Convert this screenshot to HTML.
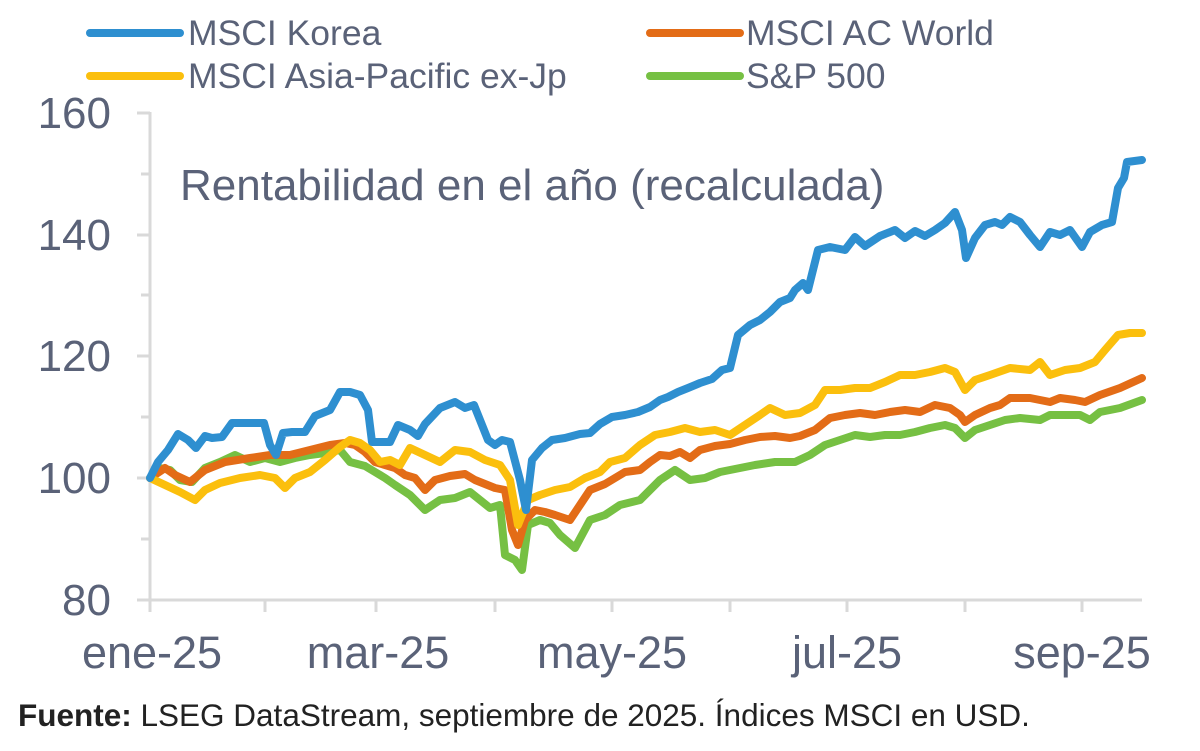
<!DOCTYPE html>
<html><head><meta charset="utf-8"><style>
body{margin:0;background:#fff;width:1200px;height:751px;overflow:hidden}
svg{display:block}
text{font-family:"Liberation Sans",sans-serif;fill:#5a6278}
</style></head><body>
<svg width="1200" height="751" viewBox="0 0 1200 751">
<g stroke="#d9d9d9" stroke-width="3" fill="none">
<line x1="150" y1="112" x2="150" y2="601"/>
<line x1="148" y1="600" x2="1142" y2="600"/>
<path d="M137 113H150M141 174H150M137 235H150M141 295H150M137 356H150M141 417H150M137 478H150M141 539H150M137 600H150"/>
<path d="M150 600V612M265 600V612M376 600V612M495 600V612M612 600V612M730 600V612M847 600V612M965 600V612M1082 600V612"/>
</g>
<g font-size="44" text-anchor="end">
<text x="111" y="128">160</text><text x="111" y="250">140</text><text x="111" y="371">120</text><text x="111" y="493">100</text><text x="111" y="615">80</text>
</g>
<g font-size="45" text-anchor="middle">
<text x="152" y="668">ene-25</text><text x="378" y="668">mar-25</text><text x="612" y="668">may-25</text><text x="847" y="668">jul-25</text><text x="1082" y="668">sep-25</text>
</g>
<text x="180" y="200" font-size="44">Rentabilidad en el año (recalculada)</text>
<g stroke-width="8" fill="none" stroke-linejoin="round" stroke-linecap="round">
<polyline stroke="#76c043" points="150,478 160,468 170,470 180,480 192,482 205,468 220,462 235,455 250,462 265,458 280,462 295,458 310,455 325,453 340,450 350,462 365,466 375,472 385,478 395,485 410,495 425,510 440,500 455,498 470,492 480,500 490,508 500,505 505,555 515,560 522,570 528,525 540,520 550,523 560,535 575,548 590,520 605,515 620,505 640,500 660,480 675,470 690,480 705,478 720,472 740,468 755,465 775,462 795,462 810,455 825,445 840,440 855,435 870,437 885,435 900,435 915,432 930,428 945,425 955,428 965,438 975,430 990,425 1005,420 1020,418 1040,420 1050,415 1065,415 1080,415 1090,420 1100,412 1120,408 1142,400"/>
<polyline stroke="#e36c17" points="150,478 165,468 175,475 190,482 205,470 225,462 250,458 270,455 290,455 310,450 330,445 345,443 355,445 365,452 375,462 385,465 395,468 405,475 415,478 425,490 435,480 450,476 465,474 475,480 485,484 495,488 505,490 512,530 518,545 525,520 535,510 545,512 555,515 570,520 580,505 590,490 605,484 615,478 625,472 640,470 650,462 660,455 670,456 680,452 690,458 700,450 715,446 730,444 745,440 760,437 775,436 790,438 800,436 815,430 830,418 845,415 860,413 875,415 890,412 905,410 920,412 935,405 950,408 960,415 965,422 975,415 990,408 1000,405 1010,398 1030,398 1050,402 1060,398 1075,400 1085,402 1100,395 1120,388 1142,378"/>
<polyline stroke="#fbbf0d" points="150,478 165,485 180,492 195,500 205,490 220,483 240,478 260,475 275,478 285,488 295,478 310,472 325,460 340,447 350,440 360,443 370,450 380,462 390,460 400,465 410,448 425,455 440,462 455,450 470,452 485,460 500,465 510,480 518,525 528,500 540,495 555,490 570,487 585,478 600,472 610,462 625,458 640,445 655,435 670,432 685,428 700,432 715,430 730,435 745,425 760,415 770,408 785,415 800,413 815,405 825,390 840,390 855,388 870,388 885,382 900,375 915,375 930,372 945,368 955,372 965,390 975,380 990,375 1010,368 1030,370 1040,362 1050,375 1065,370 1080,368 1095,362 1105,350 1118,335 1130,333 1142,333"/>
<polyline stroke="#2e8fd0" points="150,478 158,462 168,450 178,434 188,440 196,448 205,436 212,438 222,437 232,423 242,423 252,423 264,423 270,445 276,455 283,433 292,432 305,432 315,416 330,410 340,392 350,392 360,395 368,410 372,442 390,442 398,425 410,430 418,436 425,424 440,408 455,402 465,408 474,405 480,420 488,440 495,445 502,440 510,442 520,480 526,510 532,460 542,448 552,440 565,438 580,434 590,433 600,424 612,417 625,415 638,412 650,407 660,400 668,397 678,392 688,388 700,383 712,379 722,370 730,368 738,335 750,325 760,320 770,312 780,302 790,298 795,290 803,283 808,290 818,250 830,247 845,250 855,237 865,246 880,236 895,230 905,238 915,231 925,236 935,230 945,223 955,212 962,230 966,258 975,238 985,225 995,222 1002,225 1010,217 1020,222 1030,235 1040,247 1050,232 1060,235 1070,230 1082,247 1090,232 1102,225 1112,222 1118,188 1124,178 1127,162 1142,160"/>
</g>
<g stroke-width="8" stroke-linecap="round">
<line x1="90" y1="33" x2="180" y2="33" stroke="#2e8fd0"/>
<line x1="650" y1="33" x2="740" y2="33" stroke="#e36c17"/>
<line x1="90" y1="76" x2="180" y2="76" stroke="#fbbf0d"/>
<line x1="650" y1="76" x2="740" y2="76" stroke="#76c043"/>
</g>
<g font-size="35.5">
<text x="188" y="45">MSCI Korea</text>
<text x="746" y="45">MSCI AC World</text>
<text x="188" y="88">MSCI Asia-Pacific ex-Jp</text>
<text x="746" y="88">S&amp;P 500</text>
</g>
<text x="18" y="726" font-size="31.5" style="fill:#222"><tspan font-weight="bold">Fuente:</tspan> LSEG DataStream, septiembre de 2025. Índices MSCI en USD.</text>
</svg>
</body></html>
